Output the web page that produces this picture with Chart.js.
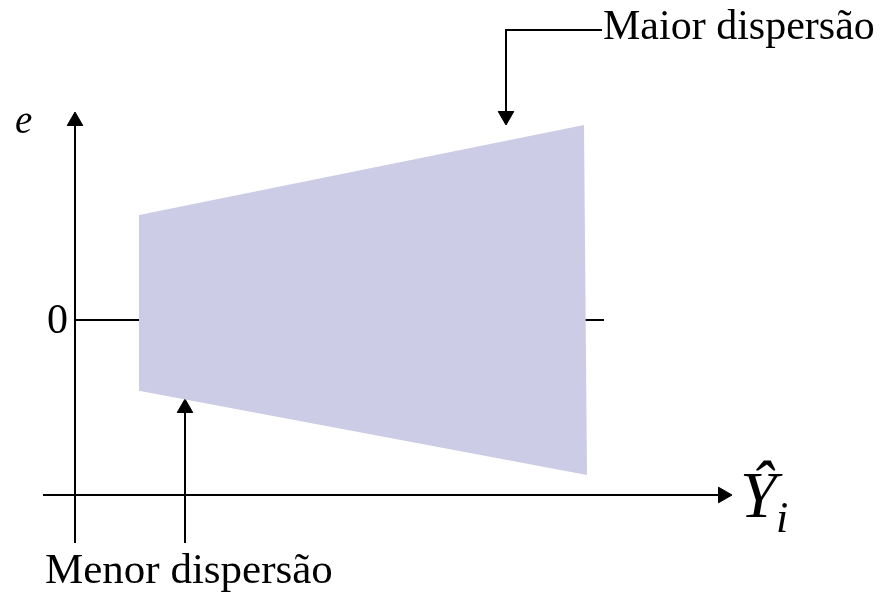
<!DOCTYPE html>
<html><head><meta charset="utf-8">
<script src="https://cdn.jsdelivr.net/npm/chart.js@4"></script>
<style>html,body{margin:0;padding:0;background:#fff;overflow:hidden}#wrap{width:888px;height:592px}</style>
</head><body><div id="wrap"><canvas id="c" width="888" height="592"></canvas></div>
<script>
// Residual band (trapezoid): fitted values Ŷ and residuals e
const bandYhat = [1.28, 10.18, 10.24, 1.30, 1.28];
const bandE    = [2.10, 3.90, -3.10, -1.42, 2.10];
// Axes
const eAxisYhat = [0, 0];
const eAxisE = [-4.46, 3.98];
const yhatAxisYhat = [-0.64, 12.96];
const yhatAxisE = [-3.5, -3.5];
const zeroLineYhat = [0, 10.58];
const zeroLineE = [0, 0];
// Annotation arrows
const maiorArrowYhat = [10.54, 8.62, 8.62];
const maiorArrowE = [5.8, 5.8, 4.08];
const menorArrowYhat = [2.2, 2.2];
const menorArrowE = [-4.46, -1.76];
// Texts
const labelMaior = 'Maior dispersão';
const labelMenor = 'Menor dispersão';
const labelE = 'e';
const labelZero = '0';
const labelYhat = 'Ŷ';
const labelSub = 'i';

const pts = (xs, ys) => xs.map((v, i) => ({x: v, y: ys[i]}));
const arrowDs = (xs, ys, rot) => ({
  data: pts(xs, ys), borderColor: '#000', borderWidth: 2, fill: false, tension: 0,
  pointRadius: c => c.dataIndex === xs.length - 1 ? 9 : 0,
  pointStyle: 'triangle', pointRotation: rot,
  pointBackgroundColor: '#000', pointBorderColor: '#000', pointBorderWidth: 1, clip: false
});

const texts = [
  {t: labelMaior, x: 10.56, y: 5.62, font: '42px "Liberation Serif"'},
  {t: labelMenor, x: -0.6, y: -5.26, font: '43px "Liberation Serif"'},
  {t: labelE, x: -1.2, y: 3.74, font: 'italic 39px "Liberation Serif"'},
  {t: labelZero, x: -0.56, y: -0.26, font: '42px "Liberation Serif"'},
  {t: labelYhat, x: 13.3, y: -3.94, font: 'italic 66px "Liberation Serif"'},
  {t: labelSub, x: 14.02, y: -4.24, font: 'italic 44px "Liberation Serif"'}
];

const textPlugin = {
  id: 'texts',
  afterDatasetsDraw(chart) {
    const {ctx, scales: {x, y}} = chart;
    ctx.save();
    ctx.fillStyle = '#000';
    ctx.textAlign = 'left';
    ctx.textBaseline = 'alphabetic';
    for (const t of texts) {
      ctx.font = t.font;
      ctx.fillText(t.t, x.getPixelForValue(t.x), y.getPixelForValue(t.y));
    }
    ctx.restore();
  }
};

new Chart(document.getElementById('c'), {
  type: 'line',
  data: {
    datasets: [
      {data: pts(bandYhat, bandE), fill: 'shape', backgroundColor: 'rgb(204,204,230)',
       borderColor: 'rgba(0,0,0,0)', borderWidth: 1, pointRadius: 0, tension: 0, clip: false},
      {data: pts(zeroLineYhat, zeroLineE), borderColor: '#000', borderWidth: 2, pointRadius: 0, fill: false, clip: false},
      arrowDs(eAxisYhat, eAxisE, 0),
      arrowDs(yhatAxisYhat, yhatAxisE, 90),
      arrowDs(maiorArrowYhat, maiorArrowE, 180),
      arrowDs(menorArrowYhat, menorArrowE, 0)
    ]
  },
  options: {
    responsive: false, animation: false, events: [],
    layout: {padding: 0, autoPadding: false},
    plugins: {legend: {display: false}, tooltip: {enabled: false}},
    scales: {
      x: {type: 'linear', min: -1.5, max: 16.26, display: false},
      y: {type: 'linear', min: -5.44, max: 6.4, display: false}
    }
  },
  plugins: [textPlugin]
});
</script>
</body></html>
